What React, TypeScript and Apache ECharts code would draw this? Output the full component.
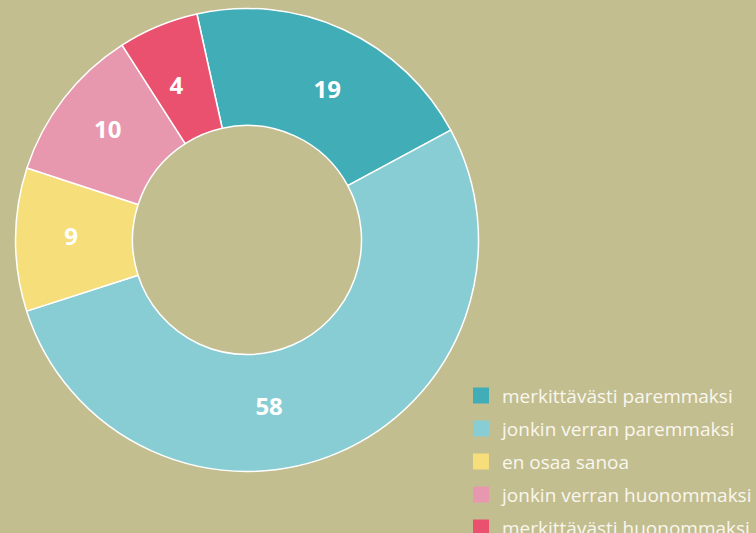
import React, { useEffect, useRef } from "react";
import * as echarts from "echarts";

const categories = [
  "merkittävästi paremmaksi",
  "jonkin verran paremmaksi",
  "en osaa sanoa",
  "jonkin verran huonommaksi",
  "merkittävästi huonommaksi",
];
// printed values
const labelValues = [19, 58, 9, 10, 4];
// slice shares as drawn in the picture
const sliceShares = [20.6, 52.9, 10.0, 10.9, 5.6];

const colors = ["#40adb7", "#89cdd4", "#f6de7a", "#e797ae", "#e9516f"];

export default function App() {
  const ref = useRef<HTMLDivElement>(null);
  useEffect(() => {
    if (!ref.current) return;
    const chart = echarts.init(ref.current, null, { renderer: "svg" });
    const labelShift: Record<number, number[]> = {
      0: [7, 9],
      1: [-47, 4],
      2: [0, -4],
      3: [0, -4],
      4: [-3, 7],
    };
    chart.setOption({
      animation: false,
      backgroundColor: "#c3be8f",
      color: colors,
      legend: {
        type: "plain",
        orient: "vertical",
        left: 473,
        top: 386,
        padding: 0,
        height: 200,
        itemWidth: 16,
        itemHeight: 16,
        itemGap: 14,
        icon: "rect",
        itemStyle: { borderWidth: 0 },
        data: categories,
        textStyle: {
          color: "#f9f7ee",
          fontFamily: "Open Sans",
          fontSize: 19,
          lineHeight: 16,
          padding: [0, 0, 0, 8],
        },
      },
      series: [
        {
          type: "pie",
          center: [247, 240],
          radius: [114.5, 231.5],
          startAngle: 102.5,
          clockwise: true,
          avoidLabelOverlap: false,
          itemStyle: { borderColor: "#ffffff", borderWidth: 1.5 },
          label: {
            show: true,
            position: "inside",
            color: "#ffffff",
            fontFamily: "Open Sans",
            fontWeight: "bold",
            fontSize: 24,
            formatter: (p: any) => String(labelValues[p.dataIndex]),
          },
          labelLine: { show: false },
          emphasis: { disabled: true },
          data: categories.map((name, i) => ({
            name,
            value: sliceShares[i],
            label: { offset: labelShift[i] },
          })),
        },
      ],
    });
    return () => chart.dispose();
  }, []);
  return (
    <div
      ref={ref}
      style={{ position: "absolute", left: 0, top: 0, width: 756, height: 533 }}
    />
  );
}
